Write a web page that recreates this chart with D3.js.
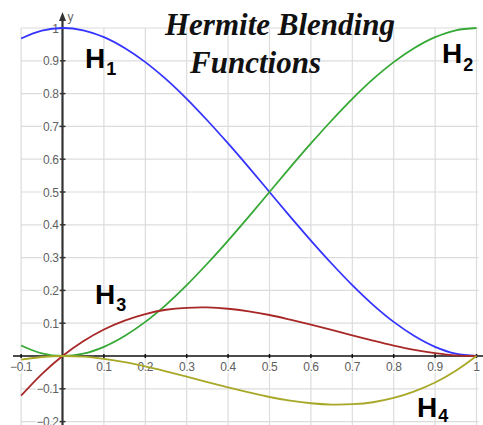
<!DOCTYPE html>
<html>
<head>
<meta charset="utf-8">
<script src="https://cdn.jsdelivr.net/npm/d3@7"></script>
<style>
  body { margin: 0; background: #fff; }
  svg { display: block; }
  .tick-label { font-family: "Liberation Sans", Arial, sans-serif; font-size: 12px; fill: #606060;
                stroke: #fff; stroke-width: 3px; paint-order: stroke; letter-spacing: -0.4px; }
</style>
</head>
<body>
<div id="chart"></div>
<script>
width = 483;
height = 425;

// sample points of the four blending functions
const tValues = [-0.1, -0.05, 0, 0.05, 0.1, 0.15, 0.2, 0.25, 0.3, 0.35, 0.4, 0.45,
                 0.5, 0.55, 0.6, 0.65, 0.7, 0.75, 0.8, 0.85, 0.9, 0.95, 1.0];
const h1Values = [0.968, 0.992, 1, 0.993, 0.972, 0.939, 0.896, 0.844, 0.784, 0.718, 0.648, 0.575,
                  0.5, 0.425, 0.352, 0.282, 0.216, 0.156, 0.104, 0.061, 0.028, 0.007, 0];
const h2Values = [0.032, 0.008, 0, 0.007, 0.028, 0.061, 0.104, 0.156, 0.216, 0.282, 0.352, 0.425,
                  0.5, 0.575, 0.648, 0.718, 0.784, 0.844, 0.896, 0.939, 0.972, 0.993, 1];
const h3Values = [-0.121, -0.055, 0, 0.045, 0.081, 0.108, 0.128, 0.141, 0.147, 0.148, 0.144, 0.136,
                  0.125, 0.111, 0.096, 0.080, 0.063, 0.047, 0.032, 0.019, 0.009, 0.002, 0];
const h4Values = [-0.011, -0.003, 0, -0.002, -0.009, -0.019, -0.032, -0.047, -0.063, -0.080, -0.096, -0.111,
                  -0.125, -0.136, -0.144, -0.148, -0.147, -0.141, -0.128, -0.108, -0.081, -0.045, 0];

const xTicks = [-0.1, 0.1, 0.2, 0.3, 0.4, 0.5, 0.6, 0.7, 0.8, 0.9, 1];
const yTicks = [-0.2, -0.1, 0.1, 0.2, 0.3, 0.4, 0.5, 0.6, 0.7, 0.8, 0.9, 1];
const gridX = [-0.1, 0.1, 0.2, 0.3, 0.4, 0.5, 0.6, 0.7, 0.8, 0.9, 1];
const gridY = [-0.2, -0.1, 0.1, 0.2, 0.3, 0.4, 0.5, 0.6, 0.7, 0.8, 0.9, 1];

const seriesNames = ['1', '2', '3', '4'];
const seriesColors = ['#3535ff', '#35a835', '#a82828', '#a8a828'];
const seriesValues = [h1Values, h2Values, h3Values, h4Values];

//////// Scales ////////
const xScale = d3.scaleLinear().domain([-0.1, 1]).range([21.1, 476.5]);
const yScale = d3.scaleLinear().domain([-0.2, 1]).range([421.6, 28]);

const svg = d3.select('#chart').append('svg')
    .attr('width', width)
    .attr('height', height);

//////// Grid ////////
svg.append('g').selectAll('line')
    .data(gridX).join('line')
    .attr('x1', d => xScale(d)).attr('x2', d => xScale(d))
    .attr('y1', yScale(1)).attr('y2', height)
    .attr('stroke', '#dcdcdc').attr('stroke-width', 1.2);

svg.append('g').selectAll('line')
    .data(gridY).join('line')
    .attr('x1', xScale(-0.1)).attr('x2', xScale(1) + 2)
    .attr('y1', d => yScale(d)).attr('y2', d => yScale(d))
    .attr('stroke', '#dcdcdc').attr('stroke-width', 1.2);

//////// Axes ////////
const x0 = xScale(0), y0 = yScale(0);

// x axis
svg.append('line')
    .attr('x1', 13).attr('x2', width)
    .attr('y1', y0).attr('y2', y0)
    .attr('stroke', '#111').attr('stroke-width', 1.6);

svg.append('g').selectAll('line')
    .data(xTicks).join('line')
    .attr('x1', d => xScale(d)).attr('x2', d => xScale(d))
    .attr('y1', y0 - 2).attr('y2', y0 + 2)
    .attr('stroke', '#111').attr('stroke-width', 1.5);

svg.append('g').selectAll('text')
    .data(xTicks).join('text')
    .attr('class', 'tick-label')
    .attr('x', d => xScale(d))
    .attr('y', y0 + 15)
    .attr('text-anchor', 'middle')
    .text(d => d3.format('~g')(d));

// y axis
svg.append('line')
    .attr('x1', x0).attr('x2', x0)
    .attr('y1', 18).attr('y2', height)
    .attr('stroke', '#333').attr('stroke-width', 2.2);

svg.append('path')
    .attr('d', `M${x0},12 L${x0 - 3.5},21 L${x0 + 3.5},21 Z`)
    .attr('fill', '#333');

svg.append('text')
    .attr('x', x0 + 5).attr('y', 21)
    .style('font-family', 'Liberation Sans, Arial, sans-serif')
    .style('font-size', '12px')
    .attr('fill', '#666')
    .text('y');

svg.append('g').selectAll('line')
    .data(yTicks).join('line')
    .attr('x1', x0 - 3).attr('x2', x0 + 3)
    .attr('y1', d => yScale(d)).attr('y2', d => yScale(d))
    .attr('stroke', '#333').attr('stroke-width', 1.5);

svg.append('g').selectAll('text')
    .data(yTicks).join('text')
    .attr('class', 'tick-label')
    .attr('x', x0 - 4)
    .attr('y', d => yScale(d) + 4.5)
    .attr('text-anchor', 'end')
    .text(d => d3.format('~g')(d));

//////// Curves ////////
const line = d3.line()
    .x((d, i) => xScale(tValues[i]))
    .y(d => yScale(d))
    .curve(d3.curveCatmullRom.alpha(0.5));

svg.append('g').selectAll('path')
    .data(seriesValues).join('path')
    .attr('d', d => line(d))
    .attr('fill', 'none')
    .attr('stroke', (d, i) => seriesColors[i])
    .attr('stroke-width', 1.8);

//////// Title ////////
const title = svg.append('g')
    .style('font-family', '"Liberation Serif", "Times New Roman", serif')
    .style('font-weight', 'bold')
    .style('font-style', 'italic')
    .style('font-size', '31px')
    .attr('fill', '#111');
title.append('text').attr('x', 165).attr('y', 35).text('Hermite Blending');
title.append('text').attr('x', 190).attr('y', 73).text('Functions');

//////// Labels ////////
const labelPos = [[85, 68, 7], [442, 63, 8], [95, 304, 7], [417, 417, 5]];

const labels = svg.append('g').selectAll('text')
    .data(seriesNames).join('text')
    .attr('x', (d, i) => labelPos[i][0])
    .attr('y', (d, i) => labelPos[i][1])
    .style('font-family', '"Liberation Sans", Arial, sans-serif')
    .style('font-weight', 'bold')
    .style('font-size', '28px')
    .attr('fill', '#000');
labels.append('tspan').text('H');
labels.append('tspan')
    .attr('dy', (d, i) => labelPos[i][2])
    .attr('dx', 1)
    .style('font-size', '18px')
    .text(d => d);
</script>
</body>
</html>
